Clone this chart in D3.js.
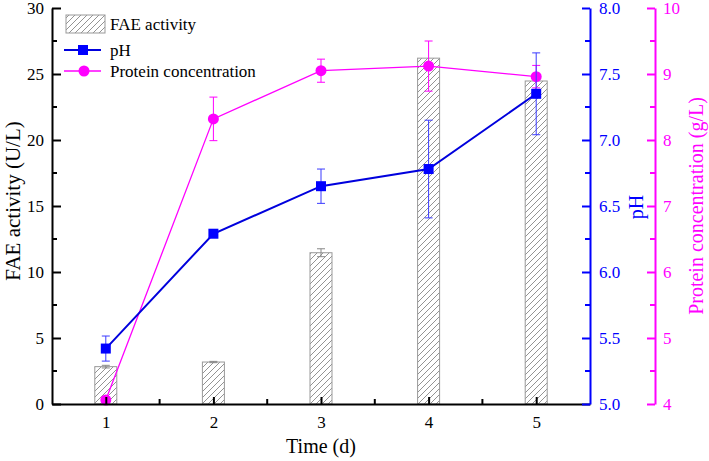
<!DOCTYPE html>
<html><head><meta charset="utf-8">
<script src="https://cdn.jsdelivr.net/npm/d3@7/dist/d3.min.js"></script>
<style>body{margin:0;background:#fff}svg{display:block}svg text{font-family:"Liberation Serif","Times New Roman",serif !important;font-weight:normal}</style>
</head><body><svg id="c" width="709" height="461"></svg>
<script>
const days = [1, 2, 3, 4, 5];
const faeActivity = [2.83, 3.18, 11.46, 26.2, 24.47];
const faeErr = [0.1, 0.05, 0.3, 0, 0];
const phValues = [5.42, 6.29, 6.65, 6.78, 7.35];
const phErr = [0.095, 0, 0.13, 0.37, 0.31];
const proteinValues = [4.06, 8.32, 9.05, 9.12, 8.96];
const proteinErr = [0.05, 0.33, 0.175, 0.38, 0.17];
const xTicks = [1, 2, 3, 4, 5];
const leftTicks = [0, 5, 10, 15, 20, 25, 30];
const phTicks = [5.0, 5.5, 6.0, 6.5, 7.0, 7.5, 8.0];
const proteinTicks = [4, 5, 6, 7, 8, 9, 10];

const svg = d3.select("#c");
const L = 52, R = 590, T = 8, B = 404, P = 655;
const blue = "#0000ff", mag = "#ff00ff";
const x = d3.scaleLinear().domain([0.5, 5.5]).range([L, R]);
const yL = d3.scaleLinear().domain([0, 30]).range([B, T]);
const yPh = d3.scaleLinear().domain([5, 8]).range([B, T]);
const yPr = d3.scaleLinear().domain([4, 10]).range([B, T]);

const defs = svg.append("defs");
const pat = defs.append("pattern").attr("id", "hatch").attr("patternUnits", "userSpaceOnUse")
  .attr("width", 6).attr("height", 6);
pat.append("rect").attr("width", 6).attr("height", 6).attr("fill", "#fff");
pat.append("path").attr("d", "M-1,7 L7,-1 M-4,4 L4,-4 M2,10 L10,2").attr("stroke", "#777").attr("stroke-width", 0.8);

// bars
const bw = 22;
svg.append("g").selectAll("rect").data(days).join("rect")
  .attr("x", (d) => x(d) - bw / 2).attr("width", bw)
  .attr("y", (d, i) => yL(faeActivity[i])).attr("height", (d, i) => B - yL(faeActivity[i]))
  .attr("fill", "url(#hatch)").attr("stroke", "#999").attr("stroke-width", 1);

function errBars(vals, errs, scale, color, cw) {
  const g = svg.append("g").attr("stroke", color).attr("stroke-width", 1).attr("fill", "none");
  days.forEach((d, i) => {
    if (!errs[i]) return;
    const cx = x(d), y1 = scale(vals[i] + errs[i]), y2 = scale(vals[i] - errs[i]);
    g.append("line").attr("x1", cx).attr("x2", cx).attr("y1", y1).attr("y2", y2);
    g.append("line").attr("x1", cx - cw).attr("x2", cx + cw).attr("y1", y1).attr("y2", y1);
    g.append("line").attr("x1", cx - cw).attr("x2", cx + cw).attr("y1", y2).attr("y2", y2);
  });
}
errBars(faeActivity, faeErr, yL, "#888", 4);

// protein line
errBars(proteinValues, proteinErr, yPr, mag, 4);
svg.append("path").datum(days).attr("fill", "none").attr("stroke", mag).attr("stroke-width", 1.3)
  .attr("d", d3.line().x((d) => x(d)).y((d, i) => yPr(proteinValues[i])));
svg.append("g").selectAll("circle").data(days).join("circle")
  .attr("cx", (d) => x(d)).attr("cy", (d, i) => yPr(proteinValues[i])).attr("r", 5.5).attr("fill", mag);

// pH line
errBars(phValues, phErr, yPh, "#3a3aff", 4);
svg.append("path").datum(days).attr("fill", "none").attr("stroke", "#0000dd").attr("stroke-width", 2)
  .attr("d", d3.line().x((d) => x(d)).y((d, i) => yPh(phValues[i])));
svg.append("g").selectAll("rect").data(days).join("rect")
  .attr("x", (d) => x(d) - 5).attr("y", (d, i) => yPh(phValues[i]) - 5).attr("width", 10).attr("height", 10).attr("fill", blue);

// axes
function styleAxis(g, color, fs) {
  g.attr("font-family", null).attr("font-size", null);
  g.selectAll("path").attr("stroke", color).attr("stroke-width", 2);
  g.selectAll("line").attr("stroke", color).attr("stroke-width", 2);
  g.selectAll("text").attr("fill", color).style("font-size", fs + "px");
}
// bottom
const gx = svg.append("g").attr("transform", `translate(0,${B})`)
  .call(d3.axisBottom(x).tickValues(xTicks).tickFormat(d3.format("d")).tickSizeInner(-7).tickSizeOuter(0).tickPadding(12));
styleAxis(gx, "#000", 17);
gx.selectAll(".minor").data([1.5, 2.5, 3.5, 4.5]).join("line").attr("class", "minor")
  .attr("x1", (d) => x(d)).attr("x2", (d) => x(d)).attr("y1", 0).attr("y2", -5).attr("stroke", "#000").attr("stroke-width", 2);

// left
const gl = svg.append("g").attr("transform", `translate(${L},0)`)
  .call(d3.axisLeft(yL).tickValues(leftTicks).tickFormat(d3.format("d")).tickSizeInner(-9).tickSizeOuter(0).tickPadding(8));
styleAxis(gl, "#000", 17);
gl.selectAll(".minor").data([2.5, 7.5, 12.5, 17.5, 22.5, 27.5]).join("line").attr("class", "minor")
  .attr("x1", 0).attr("x2", 5).attr("y1", (d) => yL(d)).attr("y2", (d) => yL(d)).attr("stroke", "#000").attr("stroke-width", 2);

// pH right
const gp = svg.append("g").attr("transform", `translate(${R},0)`)
  .call(d3.axisRight(yPh).tickValues(phTicks).tickFormat(d3.format(".1f")).tickSizeInner(-8).tickSizeOuter(0).tickPadding(9));
styleAxis(gp, blue, 17);
gp.selectAll(".minor").data([5.25, 5.75, 6.25, 6.75, 7.25, 7.75]).join("line").attr("class", "minor")
  .attr("x1", 0).attr("x2", -5).attr("y1", (d) => yPh(d)).attr("y2", (d) => yPh(d)).attr("stroke", blue).attr("stroke-width", 2);

// protein right
const gr = svg.append("g").attr("transform", `translate(${P},0)`)
  .call(d3.axisRight(yPr).tickValues(proteinTicks).tickFormat(d3.format("d")).tickSizeInner(-8).tickSizeOuter(0).tickPadding(8));
styleAxis(gr, mag, 17);
gr.selectAll(".minor").data([4.5, 5.5, 6.5, 7.5, 8.5, 9.5]).join("line").attr("class", "minor")
  .attr("x1", 0).attr("x2", -5).attr("y1", (d) => yPr(d)).attr("y2", (d) => yPr(d)).attr("stroke", mag).attr("stroke-width", 2);

// titles
svg.append("text").attr("x", x(3)).attr("y", 453).attr("text-anchor", "middle")
  .style("font-size", "20px").text("Time (d)");
svg.append("text").attr("transform", "translate(20,201) rotate(-90)").attr("text-anchor", "middle")
  .style("font-size", "21px").text("FAE activity (U/L)");
svg.append("text").attr("transform", "translate(643,207) rotate(-90)").attr("text-anchor", "middle")
  .attr("fill", blue).style("font-size", "20px").text("pH");
svg.append("text").attr("transform", "translate(703,206) rotate(-90)").attr("text-anchor", "middle")
  .attr("fill", mag).style("font-size", "20px").text("Protein concentration (g/L)");

// legend
const lg = svg.append("g");
lg.append("rect").attr("x", 66).attr("y", 15).attr("width", 39).attr("height", 18)
  .attr("fill", "url(#hatch)").attr("stroke", "#999");
lg.append("text").attr("x", 110).attr("y", 30).style("font-size", "17px").text("FAE activity");
lg.append("line").attr("x1", 64).attr("x2", 101).attr("y1", 50).attr("y2", 50).attr("stroke", "#0000dd").attr("stroke-width", 2);
lg.append("rect").attr("x", 78).attr("y", 45).attr("width", 10).attr("height", 10).attr("fill", blue);
lg.append("text").attr("x", 110).attr("y", 56).style("font-size", "17px").text("pH");
lg.append("line").attr("x1", 64).attr("x2", 101).attr("y1", 71).attr("y2", 71).attr("stroke", mag).attr("stroke-width", 1.3);
lg.append("circle").attr("cx", 84).attr("cy", 71).attr("r", 5.5).attr("fill", mag);
lg.append("text").attr("x", 110).attr("y", 77).style("font-size", "17px").text("Protein concentration");
</script></body></html>
